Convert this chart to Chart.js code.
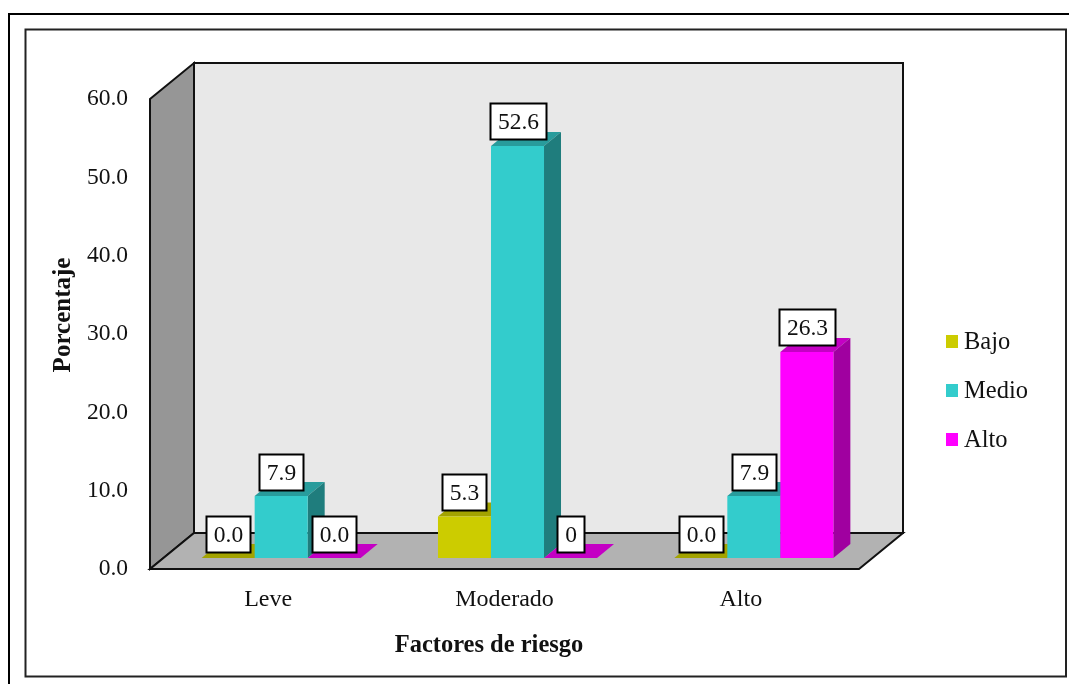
<!DOCTYPE html>
<html>
<head>
<meta charset="utf-8">
<title>Factores de riesgo</title>
<script src="https://cdn.jsdelivr.net/npm/chart.js@4"></script>
<style>
  html, body { margin: 0; padding: 0; background: #fff; overflow: hidden; }
  canvas { display: block; }
</style>
</head>
<body>
<canvas id="riskChart" width="1069" height="684"></canvas>
<script>
const categories = ['Leve', 'Moderado', 'Alto'];
const bajoValues = [0, 5.3, 0];
const medioValues = [7.9, 52.6, 7.9];
const altoValues = [0, 0, 26.3];
const bajoLabels = ['0.0', '5.3', '0.0'];
const medioLabels = ['7.9', '52.6', '7.9'];
const altoLabels = ['0.0', '0', '26.3'];
const yTicks = [0, 10, 20, 30, 40, 50, 60];

const FONT = '"Liberation Serif", "Times New Roman", serif';
const wallDepth = { x: 44, y: -36 };   // floor/back wall offset from the front plane
const barShift = { x: 13, y: -11 };    // bars stand part way into the floor
const barDepth = { x: 17, y: -14 };

function poly(ctx, points, fill, stroke, width) {
    ctx.beginPath();
    points.forEach((p, i) => i ? ctx.lineTo(p[0], p[1]) : ctx.moveTo(p[0], p[1]));
    ctx.closePath();
    if (fill) { ctx.fillStyle = fill; ctx.fill(); }
    if (stroke) { ctx.strokeStyle = stroke; ctx.lineWidth = width; ctx.stroke(); }
}

const scenePlugin = {
    id: 'scene',
    beforeDraw(chart) {
        const ctx = chart.ctx;
        ctx.save();
        ctx.fillStyle = '#ffffff';
        ctx.fillRect(0, 0, chart.width, chart.height);
        // outer page frame, cut off by the picture on the right and bottom
        ctx.strokeStyle = '#000000';
        ctx.lineWidth = 2;
        ctx.beginPath();
        ctx.moveTo(9, 684);
        ctx.lineTo(9, 14);
        ctx.lineTo(1069, 14);
        ctx.stroke();
        // chart frame
        ctx.strokeStyle = '#222222';
        ctx.strokeRect(25.5, 29.5, 1040.5, 647);

        // walls and floor come from the scales
        const x = chart.scales.x, y = chart.scales.y;
        const l = x.left, r = x.right, b = y.getPixelForValue(0), t = y.getPixelForValue(60);
        const dx = wallDepth.x, dy = wallDepth.y;
        poly(ctx, [[l + dx, t + dy], [r + dx, t + dy], [r + dx, b + dy], [l + dx, b + dy]], '#e8e8e8', '#111111', 2);
        poly(ctx, [[l, t], [l + dx, t + dy], [l + dx, b + dy], [l, b]], '#969696', '#111111', 2);
        poly(ctx, [[l, b], [l + dx, b + dy], [r + dx, b + dy], [r, b]], '#b2b2b2', '#111111', 2);
        ctx.restore();
    },
    // Chart.js paints datasets last to first; the 3D look needs first to last,
    // so the default pass is skipped and afterDatasetsDraw paints them in order
    beforeDatasetDraw() {
        return false;
    },
    afterDatasetsDraw(chart) {
        const ctx = chart.ctx;
        ctx.save();
        ctx.translate(barShift.x, barShift.y);
        chart.data.datasets.forEach((ds, i) => {
            const meta = chart.getDatasetMeta(i);
            meta.data.forEach(bar => {
                const p = bar.getProps(['x', 'y', 'base', 'width'], true);
                const x0 = p.x - p.width / 2, x1 = p.x + p.width / 2;
                const dx = barDepth.x, dy = barDepth.y;
                poly(ctx, [[x0, p.y], [x0 + dx, p.y + dy], [x1 + dx, p.y + dy], [x1, p.y]], ds.topColor);
                if (p.base - p.y > 0.5) {
                    poly(ctx, [[x1, p.y], [x1 + dx, p.y + dy], [x1 + dx, p.base + dy], [x1, p.base]], ds.sideColor);
                }
            });
            meta.controller.draw();
        });
        ctx.restore();

        // value boxes
        ctx.save();
        ctx.font = '23.5px ' + FONT;
        ctx.textAlign = 'center';
        ctx.textBaseline = 'middle';
        chart.data.datasets.forEach((ds, i) => {
            chart.getDatasetMeta(i).data.forEach((bar, j) => {
                const text = ds.valueLabels[j];
                const w = Math.round(ctx.measureText(text).width) + 15;
                const cx = bar.x + barShift.x;
                const cy = bar.y + barShift.y - 24.5;
                const bx = Math.round(cx - w / 2) + 0.5, by = Math.round(cy - 18) + 0.5;
                ctx.fillStyle = '#ffffff';
                ctx.fillRect(bx, by, w, 36);
                ctx.strokeStyle = '#000000';
                ctx.lineWidth = 2;
                ctx.strokeRect(bx, by, w, 36);
                ctx.fillStyle = '#111111';
                ctx.fillText(text, bx + w / 2, by + 19);
            });
        });
        ctx.restore();
    },
    afterDraw(chart) {
        const ctx = chart.ctx;
        ctx.save();
        ctx.fillStyle = '#111111';
        ctx.textBaseline = 'middle';

        // axis titles
        ctx.font = 'bold 24.5px ' + FONT;
        ctx.textAlign = 'center';
        ctx.fillText('Factores de riesgo', 489, 646);
        ctx.translate(64, 315);
        ctx.rotate(-Math.PI / 2);
        ctx.font = 'bold 25px ' + FONT;
        ctx.fillText('Porcentaje', 0, 0);
        ctx.setTransform(1, 0, 0, 1, 0, 0);

        // legend
        ctx.font = '24.5px ' + FONT;
        ctx.textAlign = 'left';
        chart.data.datasets.forEach((ds, i) => {
            const cy = 341.5 + i * 49;
            ctx.fillStyle = ds.backgroundColor;
            ctx.fillRect(946, cy - 6.5, 12, 13);
            ctx.fillStyle = '#111111';
            ctx.fillText(ds.label, 964, cy + 1);
        });
        ctx.restore();
    }
};

new Chart(document.getElementById('riskChart').getContext('2d'), {
    type: 'bar',
    data: {
        labels: categories,
        datasets: [
            { label: 'Bajo', data: bajoValues, valueLabels: bajoLabels, backgroundColor: '#cccc00', topColor: '#a3a300', sideColor: '#808000' },
            { label: 'Medio', data: medioValues, valueLabels: medioLabels, backgroundColor: '#33cccc', topColor: '#289c9c', sideColor: '#1f7d7d' },
            { label: 'Alto', data: altoValues, valueLabels: altoLabels, backgroundColor: '#ff00ff', topColor: '#c400c4', sideColor: '#a000a0' }
        ]
    },
    options: {
        responsive: false,
        animation: false,
        clip: false,
        layout: { padding: { left: 0, top: 99, right: 210, bottom: 0 } },
        datasets: { bar: { categoryPercentage: 0.673, barPercentage: 1, borderWidth: 0 } },
        plugins: { legend: { display: false }, tooltip: { enabled: false } },
        scales: {
            x: {
                grid: { display: false },
                border: { display: false },
                afterFit: scale => { scale.height = 115; },
                ticks: { color: '#111111', padding: 8, font: { family: FONT, size: 24 } }
            },
            y: {
                min: 0,
                max: 60,
                grid: { display: false },
                border: { display: false },
                afterFit: scale => { scale.width = 150; },
                afterBuildTicks: scale => { scale.ticks = yTicks.map(v => ({ value: v })); },
                ticks: {
                    color: '#111111',
                    padding: 14,
                    font: { family: FONT, size: 23.5 },
                    callback: v => Number(v).toFixed(1)
                }
            }
        }
    },
    plugins: [scenePlugin]
});
</script>
</body>
</html>
